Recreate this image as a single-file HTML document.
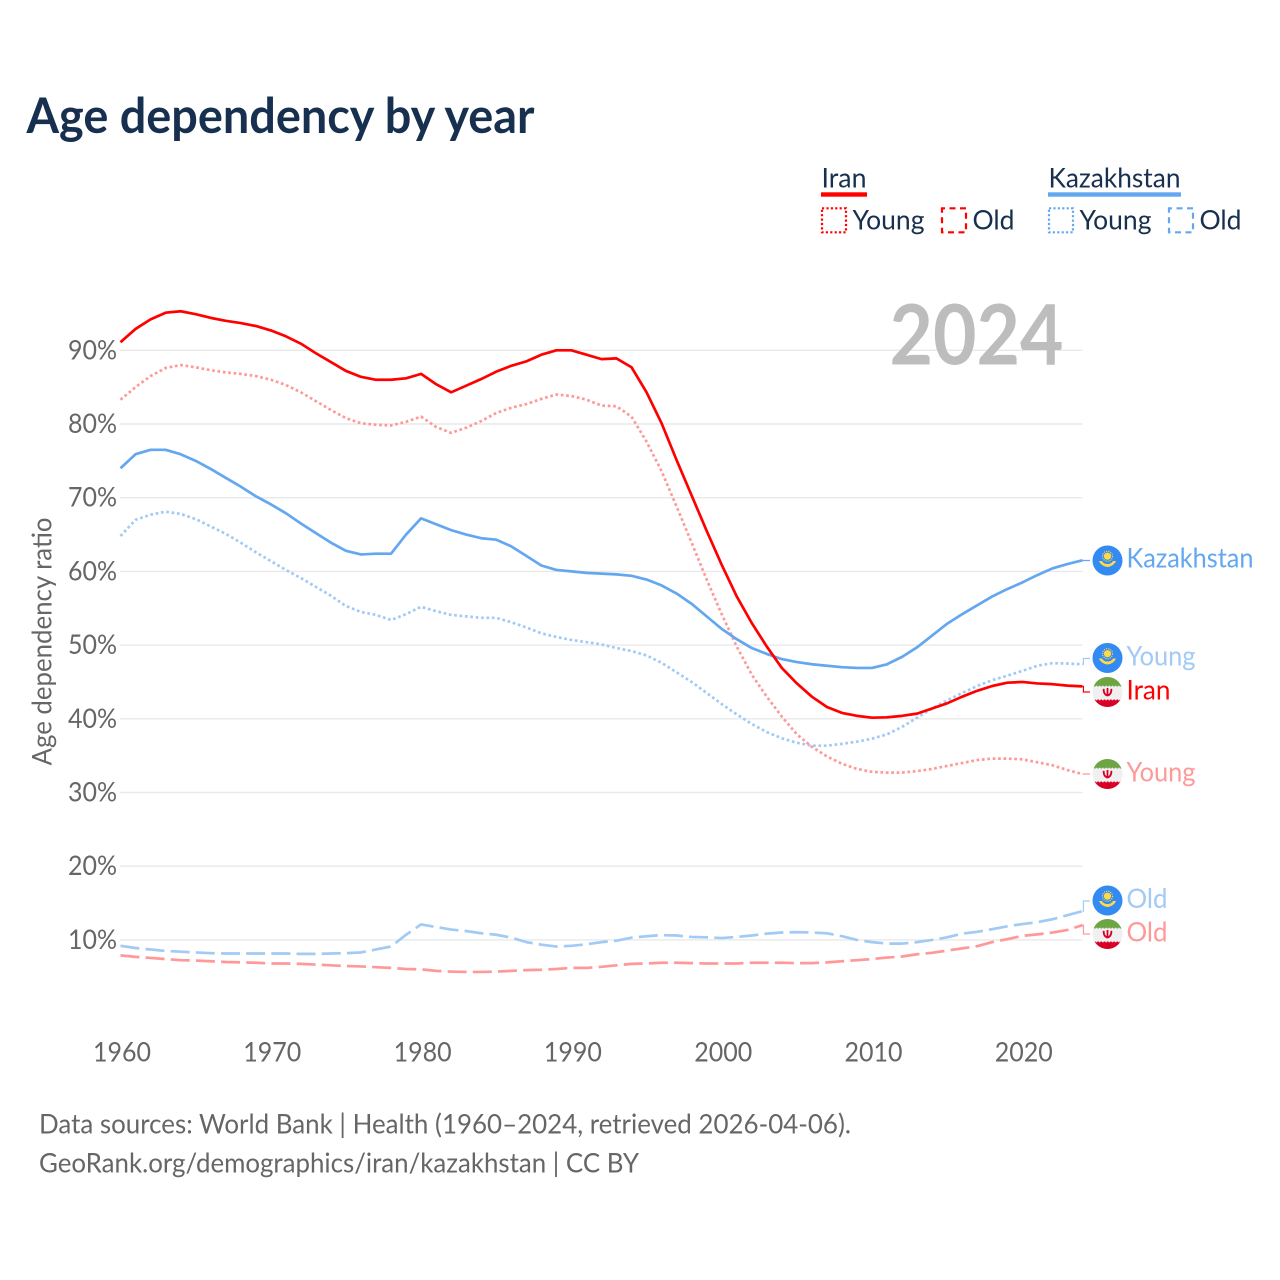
<!DOCTYPE html>
<html lang="en">
<head>
<meta charset="utf-8">
<title>Age dependency by year</title>
<style>
html,body{margin:0;padding:0;background:#fff;}
body{width:1280px;height:1280px;overflow:hidden;}
svg{display:block;}
text{font-family:"Lato","Carlito","Liberation Sans",sans-serif;}
</style>
</head>
<body>
<svg id="chart" xmlns="http://www.w3.org/2000/svg" width="1280" height="1280" viewBox="0 0 1280 1280">
  <defs>
    <clipPath id="flag-clip"><circle cx="0" cy="0" r="15"/></clipPath>
    <g id="flag-kz">
      <circle r="15" fill="#338af3"/>
      <circle cx="0" cy="-4.3" r="3.6" fill="#ffda44"/>
      <circle cx="0" cy="-4.3" r="5" fill="none" stroke="#ffda44" stroke-width="1.2" stroke-dasharray="1.1 1.1"/>
      <path d="M-8.5,0.5 L-5.5,0.5 C-4,3 -2,3.5 0,3.5 C2,3.5 4,3 5.5,0.5 L8.5,0.5 C7,4 4,6 0,6.5 C-4,6 -7,4 -8.5,0.5 Z" fill="#ffda44"/>
    </g>
    <g id="flag-ir">
      <g clip-path="url(#flag-clip)">
        <rect x="-15" y="-15" width="30" height="9.5" fill="#6da544"/>
        <rect x="-15" y="-5.5" width="30" height="13" fill="#f0f0f0"/>
        <rect x="-15" y="7.5" width="30" height="7.5" fill="#d80027"/>
        <line x1="-15" y1="-5.5" x2="15" y2="-5.5" stroke="#f0f0f0" stroke-width="1.6" stroke-dasharray="1.6 1.6"/>
        <line x1="-15" y1="7.5" x2="15" y2="7.5" stroke="#f0f0f0" stroke-width="1.6" stroke-dasharray="1.6 1.6"/>
      </g>
      <path d="M-3.8,-3.2 C-4.2,0.8 -2.2,3 0,3.5 C2.2,3 4.2,0.8 3.8,-3.2 M0,-4 V4" fill="none" stroke="#d80027" stroke-width="1.8"/>
    </g>
  </defs>

  <rect x="0" y="0" width="1280" height="1280" fill="#ffffff"/>

  <text x="26.5" y="133" font-size="48.5" font-weight="700" fill="#17304f" textLength="508" lengthAdjust="spacingAndGlyphs">Age dependency by year</text>

  <g>
    <text x="821.5" y="187.5" font-size="27.4" fill="#17304f" textLength="45" lengthAdjust="spacingAndGlyphs">Iran</text>
    <rect x="821" y="192.3" width="46" height="4.4" fill="#ff0000"/>
    <rect x="822" y="208.3" width="24" height="24" fill="none" stroke="#ff0000" stroke-width="2.2" stroke-dasharray="2.2 2.2"/>
    <text x="852.5" y="229.5" font-size="27.4" fill="#17304f" textLength="72" lengthAdjust="spacingAndGlyphs">Young</text>
    <rect x="942" y="208.3" width="24" height="24" fill="none" stroke="#ff0000" stroke-width="2.2" stroke-dasharray="6 4.5" stroke-dashoffset="3"/>
    <text x="972.5" y="229.5" font-size="27.4" fill="#17304f" textLength="42" lengthAdjust="spacingAndGlyphs">Old</text>

    <text x="1048.5" y="187.5" font-size="27.4" fill="#17304f" textLength="132" lengthAdjust="spacingAndGlyphs">Kazakhstan</text>
    <rect x="1048" y="192.3" width="133" height="4.4" fill="#62a7ef"/>
    <rect x="1049" y="208.3" width="24" height="24" fill="none" stroke="#62a7ef" stroke-width="2.2" stroke-dasharray="2.2 2.2"/>
    <text x="1079.5" y="229.5" font-size="27.4" fill="#17304f" textLength="72" lengthAdjust="spacingAndGlyphs">Young</text>
    <rect x="1169" y="208.3" width="24" height="24" fill="none" stroke="#62a7ef" stroke-width="2.2" stroke-dasharray="6 4.5" stroke-dashoffset="3"/>
    <text x="1199.5" y="229.5" font-size="27.4" fill="#17304f" textLength="42" lengthAdjust="spacingAndGlyphs">Old</text>
  </g>

  <text transform="translate(51.5,765.5) rotate(-90)" x="0" y="0" font-size="27.4" fill="#666666" textLength="248" lengthAdjust="spacingAndGlyphs">Age dependency ratio</text>

  <g id="grid"></g>
  <g id="y-ticks"></g>
  <g id="x-ticks"></g>

  <text x="889.5" y="364.5" font-size="83" font-weight="700" fill="#bdbdbd" textLength="174" lengthAdjust="spacingAndGlyphs">2024</text>

  <g id="lines"></g>

  <g>
    <use href="#flag-ir" x="1107.5" y="934"/>
    <use href="#flag-kz" x="1107.5" y="900.5"/>
    <use href="#flag-ir" x="1107.5" y="774"/>
    <use href="#flag-ir" x="1107.5" y="692"/>
    <use href="#flag-kz" x="1107.5" y="658"/>
    <use href="#flag-kz" x="1107.5" y="560.5"/>
    <text x="1126.5" y="567.5" font-size="27.4" fill="#62a7ef" textLength="127" lengthAdjust="spacingAndGlyphs">Kazakhstan</text>
    <text x="1126.5" y="665.5" font-size="27.4" fill="#a1caf5" textLength="69" lengthAdjust="spacingAndGlyphs">Young</text>
    <text x="1126.5" y="699.5" font-size="27.4" fill="#ff0000" textLength="44" lengthAdjust="spacingAndGlyphs">Iran</text>
    <text x="1126.5" y="781.5" font-size="27.4" fill="#ff9999" textLength="69" lengthAdjust="spacingAndGlyphs">Young</text>
    <text x="1126.5" y="908" font-size="27.4" fill="#a1caf5" textLength="41" lengthAdjust="spacingAndGlyphs">Old</text>
    <text x="1126.5" y="941.5" font-size="27.4" fill="#ff9999" textLength="41" lengthAdjust="spacingAndGlyphs">Old</text>
  </g>

  <text x="39" y="1133.5" font-size="27.4" fill="#666666" textLength="812" lengthAdjust="spacingAndGlyphs">Data sources: World Bank | Health (1960–2024, retrieved 2026-04-06).</text>
  <text x="39" y="1172.5" font-size="27.4" fill="#666666" textLength="600" lengthAdjust="spacingAndGlyphs">GeoRank.org/demographics/iran/kazakhstan | CC BY</text>
</svg>

<script>
const firstYear = 1960;
const yTickValues = [10, 20, 30, 40, 50, 60, 70, 80, 90];
const xTickYears = [1960, 1970, 1980, 1990, 2000, 2010, 2020];

const iranTotal = [91.1,92.9,94.2,95.1,95.3,94.9,94.4,94.0,93.7,93.3,92.7,91.9,90.9,89.6,88.4,87.2,86.4,86.0,86.0,86.2,86.8,85.4,84.3,85.2,86.1,87.1,87.9,88.5,89.4,90.0,90.0,89.4,88.8,88.9,87.7,84.3,80.1,75.1,70.3,65.5,60.9,56.6,53.0,49.8,46.9,44.8,43.0,41.6,40.8,40.4,40.15,40.2,40.4,40.7,41.4,42.1,43.0,43.8,44.45,44.9,45.0,44.8,44.7,44.5,44.4];
const iranYoung = [83.3,85.0,86.5,87.6,88.0,87.7,87.3,87.0,86.8,86.5,86.0,85.3,84.3,83.1,81.9,80.8,80.1,79.9,79.8,80.3,81.0,79.6,78.8,79.5,80.4,81.5,82.2,82.7,83.4,84.0,83.8,83.3,82.5,82.4,81.0,77.6,73.6,68.8,63.9,58.9,54.2,49.8,46.0,43.0,40.3,37.9,36.2,34.9,33.9,33.2,32.8,32.7,32.7,32.9,33.2,33.6,34.0,34.4,34.6,34.6,34.5,34.1,33.7,33.05,32.5];
const iranOld = [7.9,7.7,7.55,7.4,7.25,7.2,7.1,7.0,6.95,6.9,6.8,6.8,6.75,6.65,6.55,6.45,6.4,6.3,6.2,6.05,6.0,5.8,5.7,5.65,5.65,5.7,5.8,5.9,5.95,6.05,6.2,6.2,6.35,6.55,6.75,6.8,6.9,6.9,6.85,6.8,6.8,6.8,6.9,6.9,6.9,6.85,6.85,6.95,7.1,7.25,7.4,7.6,7.75,8.05,8.25,8.55,8.85,9.15,9.7,10.1,10.55,10.75,11.0,11.35,12.0];
const kazTotal = [74.0,75.9,76.5,76.5,75.9,75.0,73.9,72.7,71.5,70.2,69.1,67.9,66.5,65.2,63.9,62.8,62.3,62.4,62.4,65.0,67.2,66.4,65.6,65.0,64.5,64.3,63.4,62.1,60.8,60.2,60.0,59.8,59.7,59.6,59.4,58.9,58.1,57.0,55.6,53.9,52.2,50.8,49.6,48.8,48.1,47.7,47.4,47.2,47.0,46.9,46.9,47.4,48.4,49.7,51.3,52.9,54.2,55.4,56.6,57.6,58.5,59.5,60.4,61.0,61.5];
const kazYoung = [64.8,67.0,67.7,68.1,67.8,67.1,66.1,65.1,63.9,62.6,61.4,60.2,59.1,57.9,56.7,55.3,54.5,54.1,53.4,54.2,55.2,54.6,54.1,53.9,53.7,53.7,53.1,52.4,51.6,51.1,50.7,50.4,50.1,49.6,49.2,48.6,47.6,46.3,45.0,43.5,42.0,40.6,39.3,38.2,37.35,36.75,36.35,36.35,36.6,36.9,37.3,37.9,38.9,40.15,41.4,42.5,43.5,44.45,45.25,45.85,46.5,47.2,47.55,47.5,47.4];
const kazOld = [9.2,8.9,8.7,8.5,8.4,8.3,8.2,8.15,8.15,8.15,8.15,8.15,8.1,8.1,8.15,8.2,8.3,8.7,9.1,10.7,12.1,11.75,11.4,11.2,10.9,10.7,10.3,9.7,9.35,9.1,9.2,9.4,9.7,9.9,10.3,10.5,10.65,10.6,10.4,10.35,10.25,10.4,10.6,10.85,11.0,11.05,11.0,10.9,10.5,10.0,9.7,9.5,9.5,9.7,10.0,10.35,10.85,11.1,11.45,11.85,12.15,12.4,12.8,13.35,13.9];

const SVG_NS = 'http://www.w3.org/2000/svg';
function xScale(year) { return 120.5 + (year - firstYear) * 15.03; }
function yScale(value) { return 1013.6 - value * 7.37; }

function linePath(values) {
  return values.map(function (v, i) {
    return (i ? 'L' : 'M') + xScale(firstYear + i).toFixed(2) + ',' + yScale(v).toFixed(2);
  }).join(' ');
}
function connectorPath(values, labelCenterY) {
  const endX = xScale(firstYear + values.length - 1);
  const endY = yScale(values[values.length - 1]);
  return 'M' + endX.toFixed(2) + ',' + endY.toFixed(2) +
    ' L' + (endX + 1).toFixed(2) + ',' + endY.toFixed(2) +
    ' V' + labelCenterY + ' H1090';
}

const gridGroup = document.getElementById('grid');
const yTickGroup = document.getElementById('y-ticks');
const xTickGroup = document.getElementById('x-ticks');
const lineGroup = document.getElementById('lines');

yTickValues.forEach(function (v) {
  const gl = document.createElementNS(SVG_NS, 'line');
  
  
  gl.setAttribute('x1', 120);
  gl.setAttribute('x2', 1082.5);
  gl.setAttribute('y1', yScale(v));
  gl.setAttribute('y2', yScale(v));
  gl.setAttribute('stroke', '#e9e9e9');
  gl.setAttribute('stroke-width', 1.4);
  gridGroup.appendChild(gl);

  const t = document.createElementNS(SVG_NS, 'text');
  
  
  t.setAttribute('x', 117);
  t.setAttribute('y', yScale(v) + 9);
  t.setAttribute('text-anchor', 'end');
  t.setAttribute('font-size', 27.4);
  t.setAttribute('fill', '#666666');
  t.setAttribute('textLength', 49);
  t.setAttribute('lengthAdjust', 'spacingAndGlyphs');
  t.textContent = v + '%';
  yTickGroup.appendChild(t);
});

xTickYears.forEach(function (year) {
  const t = document.createElementNS(SVG_NS, 'text');
  
  
  t.setAttribute('x', xScale(year) + 1.5);
  t.setAttribute('y', 1061.5);
  t.setAttribute('text-anchor', 'middle');
  t.setAttribute('font-size', 27.4);
  t.setAttribute('fill', '#666666');
  t.setAttribute('textLength', 58);
  t.setAttribute('lengthAdjust', 'spacingAndGlyphs');
  t.textContent = year;
  xTickGroup.appendChild(t);
});

function drawSeries(name, values, color, width, dash, labelCenterY) {
  const p = document.createElementNS(SVG_NS, 'path');
  
  
  p.setAttribute('d', linePath(values));
  p.setAttribute('fill', 'none');
  p.setAttribute('stroke', color);
  p.setAttribute('stroke-width', width);
  p.setAttribute('stroke-linejoin', 'round');
  if (dash) p.setAttribute('stroke-dasharray', dash);
  lineGroup.appendChild(p);

  const c = document.createElementNS(SVG_NS, 'path');
  
  
  c.setAttribute('d', connectorPath(values, labelCenterY));
  c.setAttribute('fill', 'none');
  c.setAttribute('stroke', color);
  c.setAttribute('stroke-width', 1.2);
  lineGroup.appendChild(c);
}

drawSeries('kazakhstan-old', kazOld, '#a1caf5', 2.7, '19 6.2', 901);
drawSeries('iran-old', iranOld, '#ff9999', 2.7, '19 6.2', 934);
drawSeries('kazakhstan-young', kazYoung, '#a1caf5', 2.7, '2.7 2.7', 658.5);
drawSeries('iran-young', iranYoung, '#ff9999', 2.7, '2.7 2.7', 774);
drawSeries('kazakhstan', kazTotal, '#62a7ef', 2.7, null, 560.5);
drawSeries('iran', iranTotal, '#ff0000', 2.7, null, 692);
</script>
</body>
</html>
